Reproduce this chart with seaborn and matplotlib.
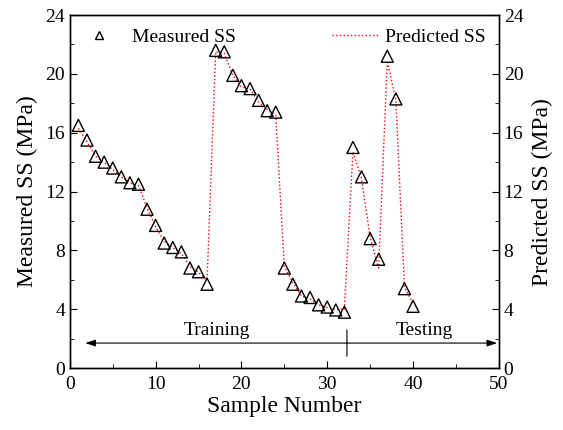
import numpy as np
import pandas as pd
import seaborn as sns
from matplotlib import pyplot as plt
from matplotlib.lines import Line2D
from matplotlib.ticker import MultipleLocator

sample_no = list(range(1, 41))
measured_ss = [16.5, 15.5, 14.4, 14.0, 13.6, 13.0, 12.6, 12.5, 10.8, 9.7,
               8.5, 8.2, 7.9, 6.8, 6.55, 5.7, 21.6, 21.5, 19.9, 19.2,
               19.0, 18.2, 17.5, 17.4, 6.8, 5.7, 4.9, 4.8, 4.3, 4.15,
               3.95, 3.8, 15.0, 13.0, 8.8, 7.4, 21.2, 18.3, 5.4, 4.2]
predicted_ss = [16.3, 15.4, 14.4, 14.0, 13.5, 13.0, 12.6, 12.4, 10.9, 9.6,
                8.6, 8.2, 7.8, 6.9, 6.5, 6.0, 21.5, 21.4, 19.9, 19.1,
                19.0, 18.1, 17.6, 17.2, 6.9, 5.8, 4.9, 4.7, 4.3, 4.1,
                4.0, 4.0, 14.7, 12.9, 8.9, 6.8, 20.9, 18.2, 5.5, 4.4]

df = pd.DataFrame({"sample": sample_no, "measured": measured_ss,
                   "predicted": predicted_ss})

sns.set_style("ticks")
plt.rcParams["font.family"] = ["Liberation Serif", "DejaVu Serif"]
plt.rcParams["xtick.direction"] = "in"
plt.rcParams["ytick.direction"] = "in"
plt.rcParams["text.color"] = "black"
plt.rcParams["axes.labelcolor"] = "black"
plt.rcParams["xtick.color"] = "black"
plt.rcParams["ytick.color"] = "black"

fs_tick = 14
fs_label = 17

fig = plt.figure(figsize=(5.63, 4.30), dpi=100)
ax = fig.add_axes([0.124, 0.144, 0.762, 0.821])

sns.lineplot(data=df, x="sample", y="predicted", ax=ax, color="red",
             linestyle=":", linewidth=1.0, errorbar=None, legend=False)
sns.scatterplot(data=df, x="sample", y="measured", ax=ax, marker="^",
                s=75, facecolor="none", edgecolor="black", linewidth=1.0,
                legend=False, zorder=3)

ax.set_xlim(0, 50)
ax.set_ylim(0, 24)
ax.xaxis.set_major_locator(MultipleLocator(10))
ax.xaxis.set_minor_locator(MultipleLocator(5))
ax.yaxis.set_major_locator(MultipleLocator(4))
ax.yaxis.set_minor_locator(MultipleLocator(2))
ax.tick_params(which="major", length=5, labelsize=fs_tick)
ax.tick_params(axis="x", which="major", pad=6)
ax.tick_params(which="minor", length=3)
ax.set_xlabel("Sample Number", fontsize=fs_label, labelpad=2)
ax.set_ylabel("Measured SS (MPa)", fontsize=fs_label, labelpad=5)

ax2 = ax.twinx()
ax2.set_ylim(0, 24)
ax2.yaxis.set_major_locator(MultipleLocator(4))
ax2.yaxis.set_minor_locator(MultipleLocator(2))
ax2.tick_params(which="major", length=5, labelsize=fs_tick, direction="in")
ax2.tick_params(which="minor", length=3, direction="in")
ax2.set_ylabel("Predicted SS (MPa)", fontsize=fs_label, labelpad=6)

for a in (ax, ax2):
    for sp in a.spines.values():
        sp.set_linewidth(1.0)
        sp.set_color("black")

# training / testing split
split_x = 32.3
arrow_kw = dict(arrowstyle="-|>,head_length=0.6,head_width=0.2",
                color="black", lw=0.8, shrinkA=0, shrinkB=0)
ax.annotate("", xy=(1.8, 1.7), xytext=(split_x, 1.7), arrowprops=arrow_kw)
ax.annotate("", xy=(49.8, 1.7), xytext=(split_x, 1.7), arrowprops=arrow_kw)
ax.annotate("", xy=(split_x, 0.8), xytext=(split_x, 2.6),
            arrowprops=dict(arrowstyle="-", color="black", lw=0.8,
                            shrinkA=0, shrinkB=0))
ax.text(17.1, 1.95, "Training", fontsize=fs_tick, ha="center", va="bottom")
ax.text(41.3, 1.95, "Testing", fontsize=fs_tick, ha="center", va="bottom")

meas_handle = Line2D([], [], marker="^", linestyle="none", markersize=5.5,
                     markerfacecolor="none", markeredgecolor="black",
                     markeredgewidth=1.0)
pred_handle = Line2D([], [], color="red", linestyle=":", linewidth=1.0)
ax.legend(handles=[meas_handle], labels=["Measured SS"], loc="upper left",
          frameon=False, fontsize=fs_tick, handlelength=1.6,
          handletextpad=0.9, borderaxespad=0.3)
ax2.legend(handles=[pred_handle], labels=["Predicted SS"], loc="upper right",
           frameon=False, fontsize=fs_tick, handlelength=2.4,
           handletextpad=0.3, borderaxespad=0.3)

fig.savefig("out.png", dpi=100)
